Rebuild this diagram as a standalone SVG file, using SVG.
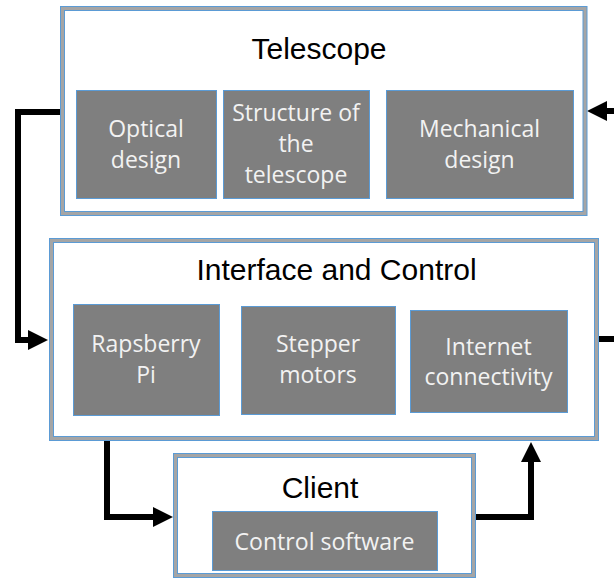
<svg xmlns="http://www.w3.org/2000/svg" width="614" height="578" viewBox="0 0 614 578">
<style>
.band1{fill:#fff;stroke:#5b9bd5;stroke-width:5}
.band2{fill:none;stroke:#a5a5a5;stroke-width:3}
.sub{fill:#7f7f7f;stroke:#5b9bd5;stroke-width:1}
.title{font-family:"Liberation Sans",Arial,sans-serif;font-size:30px;fill:#000;text-anchor:middle}
.lbl{font-family:"Open Sans","Noto Sans",sans-serif;font-size:23px;fill:#f2f2f2;text-anchor:middle}
.con{fill:none;stroke:#000;stroke-width:6}
</style>
<defs>
<marker id="ah" viewBox="0 0 10 10" refX="0" refY="5" markerUnits="userSpaceOnUse" markerWidth="20" markerHeight="20" orient="auto">
<path d="M0,0 L10,5 L0,10 z" fill="#000"/>
</marker>
</defs>
<rect width="614" height="578" fill="#fff"/>
<g id="connectors">
<path class="con" d="M62,112 H18 V340 H28" marker-end="url(#ah)"/>
<path class="con" d="M620,111 H607" marker-end="url(#ah)"/>
<path class="con" d="M597,339 H620"/>
<path class="con" d="M107,439 V517 H153" marker-end="url(#ah)"/>
<path class="con" d="M474,517 H531 V462" marker-end="url(#ah)"/>
</g>
<g id="telescope">
<rect class="band1" x="62.5" y="8.5" width="522.5" height="205"/>
<rect class="band2" x="62.5" y="8.5" width="522.5" height="205"/>
<text class="title" x="319" y="59">Telescope</text>
</g>
<g id="optical">
<rect class="sub" x="76.5" y="90.5" width="140" height="108"/>
<text class="lbl" x="146" y="137">Optical</text>
<text class="lbl" x="146" y="168">design</text>
</g>
<g id="structure">
<rect class="sub" x="223.5" y="90.5" width="146" height="108"/>
<text class="lbl" x="296" y="121">Structure of</text>
<text class="lbl" x="296" y="152">the</text>
<text class="lbl" x="296" y="183">telescope</text>
</g>
<g id="mechanical">
<rect class="sub" x="386.5" y="90.5" width="187" height="108"/>
<text class="lbl" x="479.5" y="137">Mechanical</text>
<text class="lbl" x="479.5" y="168">design</text>
</g>
<g id="interface">
<rect class="band1" x="51.5" y="240.5" width="545" height="198"/>
<rect class="band2" x="51.5" y="240.5" width="545" height="198"/>
<text class="title" x="336.5" y="280">Interface and Control</text>
</g>
<g id="raspberry">
<rect class="sub" x="73.5" y="304.5" width="146" height="111"/>
<text class="lbl" x="146" y="352">Rapsberry</text>
<text class="lbl" x="146" y="383">Pi</text>
</g>
<g id="stepper">
<rect class="sub" x="241.5" y="306.5" width="154" height="108"/>
<text class="lbl" x="318" y="352">Stepper</text>
<text class="lbl" x="318" y="383">motors</text>
</g>
<g id="internet">
<rect class="sub" x="410.5" y="310.5" width="157" height="102"/>
<text class="lbl" x="488.5" y="355">Internet</text>
<text class="lbl" x="488.5" y="385">connectivity</text>
</g>
<g id="client">
<rect class="band1" x="175.5" y="455.5" width="298" height="120"/>
<rect class="band2" x="175.5" y="455.5" width="298" height="120"/>
<text class="title" x="320" y="498">Client</text>
</g>
<g id="control">
<rect class="sub" x="212.5" y="511.5" width="225" height="59"/>
<text class="lbl" x="324.5" y="550" font-size="22" textLength="180" lengthAdjust="spacingAndGlyphs">Control software</text>
</g>
</svg>
